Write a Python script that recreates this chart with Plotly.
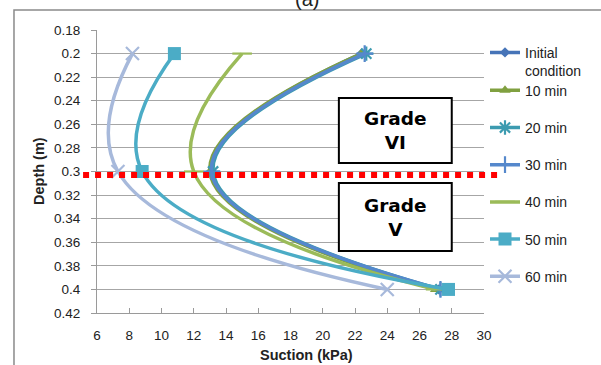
import plotly.graph_objects as go

depth = [0.2, 0.3, 0.4]
series_names = ["Initial<br>condition", "10 min", "20 min", "30 min", "40 min", "50 min", "60 min"]
initial = [22.4, 13.1, 27.2]
min10 = [22.4, 13.0, 27.0]
min20 = [22.7, 13.2, 27.3]
min30 = [22.6, 13.1, 27.3]
min40 = [15.0, 12.0, 27.0]
min50 = [10.8, 8.8, 27.8]
min60 = [8.2, 7.3, 24.0]
x_ticks = [6, 8, 10, 12, 14, 16, 18, 20, 22, 24, 26, 28, 30]
y_ticks = [0.18, 0.2, 0.22, 0.24, 0.26, 0.28, 0.3, 0.32, 0.34, 0.36, 0.38, 0.4, 0.42]
boundary_depth = 0.303

series = [initial, min10, min20, min30, min40, min50, min60]
colors = ["#4674B8", "#80A040", "#3C9BB0", "#5588CC", "#9BBB59", "#4BACC6", "#A7B9DB"]
symbols = ["diamond", "triangle-up", "asterisk-open", "cross-thin-open", "line-ew-open", "square", "x-thin-open"]
msizes = [8, 10, 12, 12, 14, 13, 13]

fig = go.Figure()
for i, (name, vals) in enumerate(zip(series_names, series)):
    open_sym = symbols[i].endswith("open")
    fig.add_trace(go.Scatter(
        x=vals, y=depth, name=name, mode="lines+markers",
        line=dict(color=colors[i], width=3.5, shape="spline", smoothing=1.3),
        marker=dict(symbol=symbols[i], size=msizes[i], color=colors[i],
                    line=dict(color=colors[i], width=2.2 if open_sym else 0)),
        legend="legend" if i == 0 else "legend2",
        legendgroup=str(i),
    ))

fig.update_layout(
    width=601, height=365,
    margin=dict(l=97, r=117, t=30, b=52),
    paper_bgcolor="white", plot_bgcolor="white",
    font=dict(family="Liberation Sans", size=13, color="#222222"),
    xaxis=dict(range=[6, 30], tickvals=x_ticks, ticktext=[str(v) for v in x_ticks],
               showgrid=False, zeroline=False, showline=True, linecolor="#9a9a9a", linewidth=1,
               ticks="inside", ticklen=5, tickcolor="#9a9a9a", ticklabelstandoff=10,
               tickfont=dict(size=13.5, color="#222222")),
    yaxis=dict(range=[0.42, 0.18], tickvals=y_ticks,
               ticktext=[("%g" % v) for v in y_ticks],
               showgrid=True, gridcolor="#a6a6a6", gridwidth=1, zeroline=False,
               showline=True, linecolor="#9a9a9a", linewidth=1,
               ticks="outside", ticklen=5, tickcolor="#9a9a9a", ticklabelstandoff=8,
               tickfont=dict(size=13.5, color="#222222")),
    legend=dict(x=1.0026, y=0.976, xanchor="left", yanchor="top", valign="top",
                bgcolor="rgba(0,0,0,0)", font=dict(size=14, color="#222222"),
                itemclick=False),
    legend2=dict(x=1.0026, y=0.842, xanchor="left", yanchor="top",
                 bgcolor="rgba(0,0,0,0)", font=dict(size=14, color="#222222"),
                 tracegroupgap=16, itemclick=False),
    showlegend=True,
)

# outer chart frame
fig.add_shape(type="rect", xref="paper", yref="paper", x0=-0.2145, x1=1.8, y0=-0.6, y1=1.0707,
              line=dict(color="#8a8a8a", width=1.5), fillcolor="rgba(0,0,0,0)", layer="below")

# boundary line
fig.add_shape(type="line", xref="paper", yref="y", x0=-0.036, x1=1.034, y0=boundary_depth, y1=boundary_depth,
              line=dict(color="#FF0000", width=6, dash="dot"))

# grade boxes
fig.add_shape(type="rect", xref="x", yref="y", x0=21.0, x1=28.0, y0=0.2377, y1=0.2928,
              line=dict(color="black", width=2), fillcolor="white")
fig.add_shape(type="rect", xref="x", yref="y", x0=21.0, x1=28.0, y0=0.3098, y1=0.3675,
              line=dict(color="black", width=2), fillcolor="white")
fig.add_annotation(x=24.5, y=(0.2377 + 0.2928) / 2, xref="x", yref="y", text="<b>Grade<br>VI</b>",
                   showarrow=False, font=dict(family="DejaVu Sans", size=18.5, color="black"))
fig.add_annotation(x=24.5, y=(0.3098 + 0.3675) / 2, xref="x", yref="y", text="<b>Grade<br>V</b>",
                   showarrow=False, font=dict(family="DejaVu Sans", size=18.5, color="black"))

# axis titles
fig.add_annotation(x=0.5426, y=-0.147, xref="paper", yref="paper", text="<b>Suction (kPa)</b>",
                   showarrow=False, yanchor="middle", font=dict(size=14.5, color="#222222"))
fig.add_annotation(x=-0.177, y=0.5, xref="paper", yref="paper", text="<b>Depth (m)</b>",
                   showarrow=False, textangle=-90, font=dict(size=14.5, color="#222222"))
# panel label (cropped at top in the original figure)
fig.add_annotation(x=0.5426, y=1.0636, xref="paper", yref="paper", text="(a)",
                   showarrow=False, yanchor="bottom", font=dict(size=20, color="#222222"))

fig.write_html("out.html")
